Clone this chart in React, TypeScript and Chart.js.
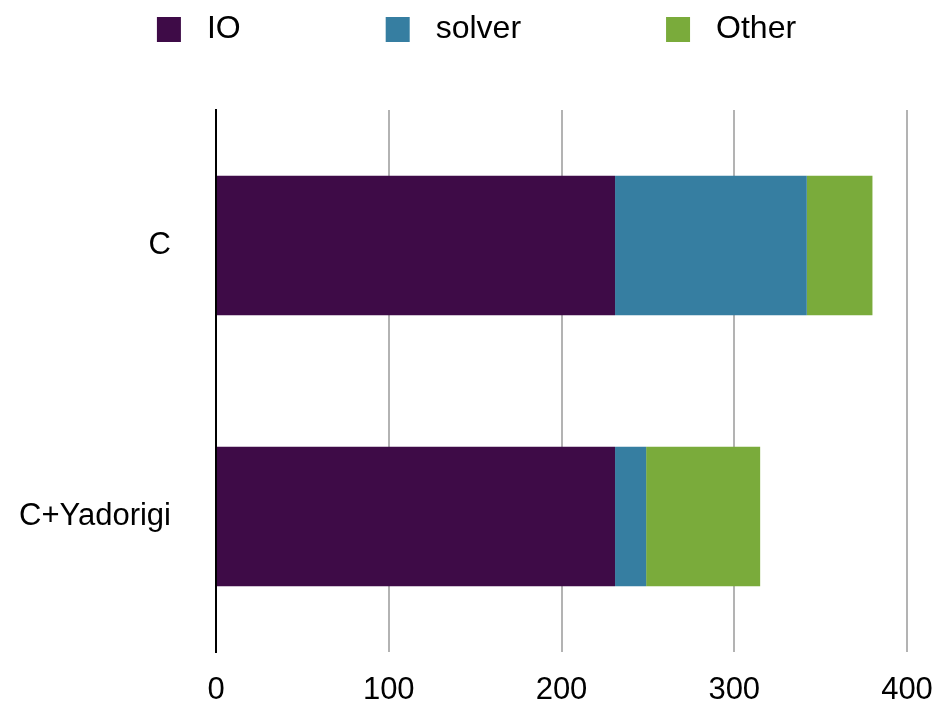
import React, { useEffect, useRef } from "react";
import { Chart, registerables } from "chart.js";

Chart.register(...registerables);

const categories = ["C", "C+Yadorigi"];
const ioValues = [231, 231];
const solverValues = [111, 18];
const otherValues = [38, 66];
const seriesLabels = ["IO", "solver", "Other"];
const seriesColors = ["#3e0b47", "#367ea1", "#7aab3b"];
const xTicks = [0, 100, 200, 300, 400];

const FONT = '"Liberation Sans", Helvetica, Arial, sans-serif';

const legendPlugin = {
  id: "customLegend",
  afterDraw(chart: any) {
    const ctx = chart.ctx as CanvasRenderingContext2D;
    const ds = chart.data.datasets;
    ctx.save();
    ctx.font = `32px ${FONT}`;
    ctx.textBaseline = "middle";
    ctx.textAlign = "left";
    const box = 24;
    const gap = 26;
    const spacing = 145;
    const widths = ds.map((d: any) => ctx.measureText(d.label).width);
    const total =
      widths.reduce((a: number, b: number) => a + b, 0) + ds.length * (box + gap) + (ds.length - 1) * spacing;
    let x = chart.width / 2 + 9 - total / 2;
    ds.forEach((d: any, i: number) => {
      ctx.fillStyle = d.backgroundColor;
      ctx.fillRect(x, 17, box, 25);
      ctx.fillStyle = "#000";
      ctx.fillText(d.label, x + box + gap, 29);
      x += box + gap + widths[i] + spacing;
    });
    ctx.restore();
  },
};

export default function App() {
  const ref = useRef<HTMLCanvasElement>(null);
  useEffect(() => {
    document.body.style.margin = "0";
    Chart.defaults.font.family = FONT;
    const chart = new Chart(ref.current!, {
      type: "bar",
      data: {
        labels: categories,
        datasets: [
          { label: seriesLabels[0], data: ioValues, backgroundColor: seriesColors[0] },
          { label: seriesLabels[1], data: solverValues, backgroundColor: seriesColors[1] },
          { label: seriesLabels[2], data: otherValues, backgroundColor: seriesColors[2] },
        ],
      },
      options: {
        indexAxis: "y",
        animation: false,
        responsive: false,
        devicePixelRatio: 1,
        layout: { padding: { top: 110, right: 28, bottom: 0, left: 0 } },
        datasets: { bar: { barPercentage: 0.515, categoryPercentage: 1 } },
        plugins: { legend: { display: false }, tooltip: { enabled: false } },
        scales: {
          x: {
            stacked: true,
            min: 0,
            max: 400,
            afterBuildTicks: (scale: any) => {
              scale.ticks = xTicks.map((v) => ({ value: v }));
            },
            afterFit: (scale: any) => {
              scale.height = 52;
              scale.paddingLeft = 0;
              scale.paddingRight = 0;
            },
            ticks: { color: "#000", font: { size: 31 }, padding: 20 },
            grid: {
              color: (c: any) => (c.tick && c.tick.value === 0 ? "rgba(0,0,0,0)" : "#b3b3b3"),
              lineWidth: 2,
              tickLength: 0,
            },
            border: { display: false },
          },
          y: {
            stacked: true,
            afterFit: (scale: any) => {
              scale.width = 216;
              scale.paddingTop = 0;
              scale.paddingBottom = 0;
            },
            ticks: { color: "#000", font: { size: 31 }, padding: 45 },
            grid: { display: false, tickLength: 0 },
            border: { display: true, color: "#000", width: 2 },
          },
        },
      },
      plugins: [legendPlugin],
    });
    return () => chart.destroy();
  }, []);
  return (
    <div style={{ width: 935, height: 704 }}>
      <canvas ref={ref} width={935} height={704} style={{ display: "block" }} />
    </div>
  );
}
